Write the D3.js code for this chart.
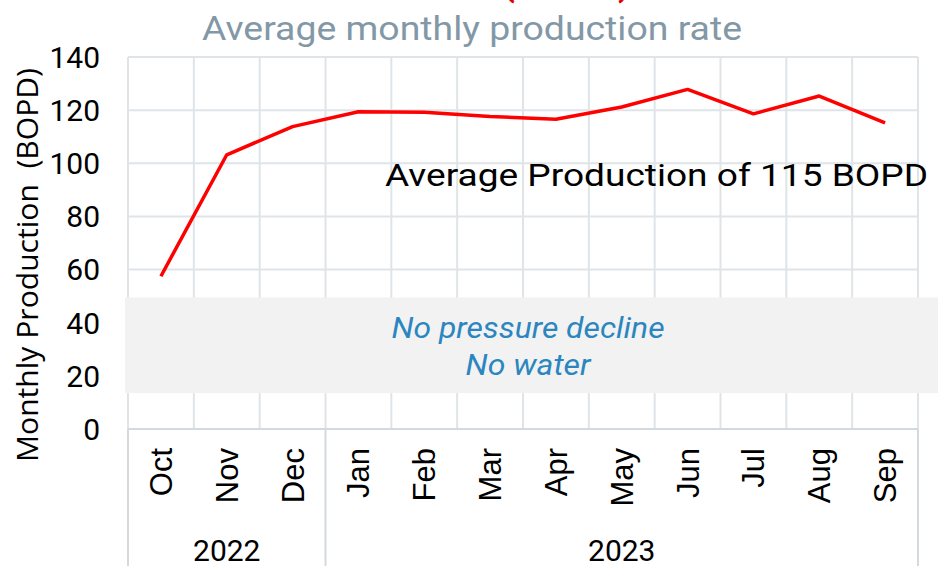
<!DOCTYPE html>
<html>
<head>
<meta charset="utf-8">
<script src="https://cdn.jsdelivr.net/npm/d3@7"></script>
<style>
  html, body { margin: 0; padding: 0; background: #ffffff; }
  svg { display: block; }
</style>
</head>
<body>
<svg id="chart" width="938" height="566"></svg>
<script>
// ---- data ----
const months = ["Oct", "Nov", "Dec", "Jan", "Feb", "Mar", "Apr", "May", "Jun", "Jul", "Aug", "Sep"];
const years = ["2022", "2023"];
const yearOfMonth = ["2022", "2022", "2022", "2023", "2023", "2023", "2023", "2023", "2023", "2023", "2023", "2023"];
const production = [57.5, 103.2, 113.8, 119.4, 119.2, 117.6, 116.6, 121.2, 127.8, 118.6, 125.3, 115.2];
const yTicks = [0, 20, 40, 60, 80, 100, 120, 140];
const bandRange = [13.5, 49.5];
const title = "Average monthly production rate";
const yTitle = "Monthly Production  (BOPD)";
const annotation = "Average Production of 115 BOPD";
const noteLines = ["No pressure decline", "No water"];

// ---- layout ----
const W = 938, H = 566;
const plot = { left: 128, right: 918, top: 57, bottom: 429 };
const gridColor = "#dfe4e8";

const svg = d3.select("#chart");

const x = d3.scaleBand().domain(months).range([plot.left, plot.right]).padding(0);
const y = d3.scaleLinear().domain([0, 140]).range([plot.bottom, plot.top]);

// red cut-off heading (only bottoms of parentheses visible)
svg.append("text").attr("x", 503).attr("y", -4)
  .attr("font-family", "Roboto").attr("font-size", 34).attr("font-weight", "bold")
  .attr("fill", "#e00000").text("(");
svg.append("text").attr("x", 618).attr("y", -4)
  .attr("font-family", "Roboto").attr("font-size", 34).attr("font-weight", "bold")
  .attr("fill", "#e00000").text(")");

// title
svg.append("text").attr("x", 202).attr("y", 40)
  .attr("font-family", "Roboto").attr("font-size", 34)
  .attr("fill", "#8398a6")
  .attr("textLength", 540).attr("lengthAdjust", "spacingAndGlyphs")
  .text(title);

// horizontal gridlines
svg.append("g").selectAll("line").data(yTicks.filter(d => d > 0)).join("line")
  .attr("x1", plot.left).attr("x2", plot.right)
  .attr("y1", d => y(d)).attr("y2", d => y(d))
  .attr("stroke", gridColor).attr("stroke-width", 2);

// vertical gridlines at category boundaries
const bounds = months.map(m => x(m)).concat([plot.right]);
svg.append("g").selectAll("line").data(bounds).join("line")
  .attr("x1", d => d).attr("x2", d => d)
  .attr("y1", plot.top).attr("y2", plot.bottom)
  .attr("stroke", gridColor).attr("stroke-width", 2);

// grey band
svg.append("rect")
  .attr("x", plot.left - 3).attr("width", W - plot.left + 3)
  .attr("y", y(bandRange[1])).attr("height", y(bandRange[0]) - y(bandRange[1]))
  .attr("fill", "#f2f2f2");

// band notes
svg.append("text").attr("x", 528).attr("y", 338)
  .attr("text-anchor", "middle").attr("font-family", "Roboto").attr("font-style", "italic")
  .attr("font-size", 29).attr("fill", "#2b86bf")
  .attr("textLength", 273).attr("lengthAdjust", "spacingAndGlyphs")
  .text(noteLines[0]);
svg.append("text").attr("x", 528).attr("y", 375)
  .attr("text-anchor", "middle").attr("font-family", "Roboto").attr("font-style", "italic")
  .attr("font-size", 29).attr("fill", "#2b86bf")
  .attr("textLength", 125).attr("lengthAdjust", "spacingAndGlyphs")
  .text(noteLines[1]);

// x axis line and group lines
svg.append("line").attr("x1", plot.left).attr("x2", plot.right)
  .attr("y1", plot.bottom).attr("y2", plot.bottom)
  .attr("stroke", "#d3dadf").attr("stroke-width", 2);
const groupStarts = years.map(yr => x(months[yearOfMonth.indexOf(yr)]));
const groupLines = groupStarts.concat([plot.right]);
svg.append("g").selectAll("line").data(groupLines).join("line")
  .attr("x1", d => d).attr("x2", d => d)
  .attr("y1", plot.bottom).attr("y2", H)
  .attr("stroke", "#d3dadf").attr("stroke-width", 2);

// month labels
svg.append("g").selectAll("text").data(months).join("text")
  .attr("transform", d => `translate(${x(d) + x.bandwidth() / 2 + 11},448) rotate(-90)`)
  .attr("text-anchor", "end")
  .attr("font-family", "Liberation Sans, Arial, sans-serif").attr("font-size", 31)
  .attr("fill", "#000")
  .text(d => d);

// year labels
svg.append("g").selectAll("text").data(years).join("text")
  .attr("x", (yr, i) => (groupLines[i] + groupLines[i + 1]) / 2)
  .attr("y", 561)
  .attr("text-anchor", "middle").attr("font-family", "Roboto").attr("font-size", 30)
  .attr("fill", "#000")
  .text(d => d);

// y tick labels
svg.append("g").selectAll("text").data(yTicks).join("text")
  .attr("x", 100).attr("y", d => y(d))
  .attr("dy", "0.36em")
  .attr("text-anchor", "end").attr("font-family", "Roboto").attr("font-size", 30)
  .attr("fill", "#000")
  .text(d => d);

// y title
svg.append("text")
  .attr("transform", `translate(38,265) rotate(-90)`)
  .attr("text-anchor", "middle").attr("font-family", "Open Sans, Roboto, sans-serif").attr("font-size", 29)
  .attr("fill", "#000")
  .style("white-space", "pre")
  .attr("textLength", 394).attr("lengthAdjust", "spacingAndGlyphs")
  .text(yTitle);

// production line
const line = d3.line().x((d, i) => x(months[i]) + x.bandwidth() / 2).y(d => y(d));
svg.append("path").datum(production)
  .attr("d", line)
  .attr("fill", "none").attr("stroke", "#ff0000").attr("stroke-width", 3.5)
  .attr("stroke-linejoin", "round");

// annotation
svg.append("text").attr("x", 385).attr("y", 186)
  .attr("font-family", "Roboto").attr("font-size", 31).attr("fill", "#000")
  .attr("textLength", 543).attr("lengthAdjust", "spacingAndGlyphs")
  .text(annotation);
</script>
</body>
</html>
